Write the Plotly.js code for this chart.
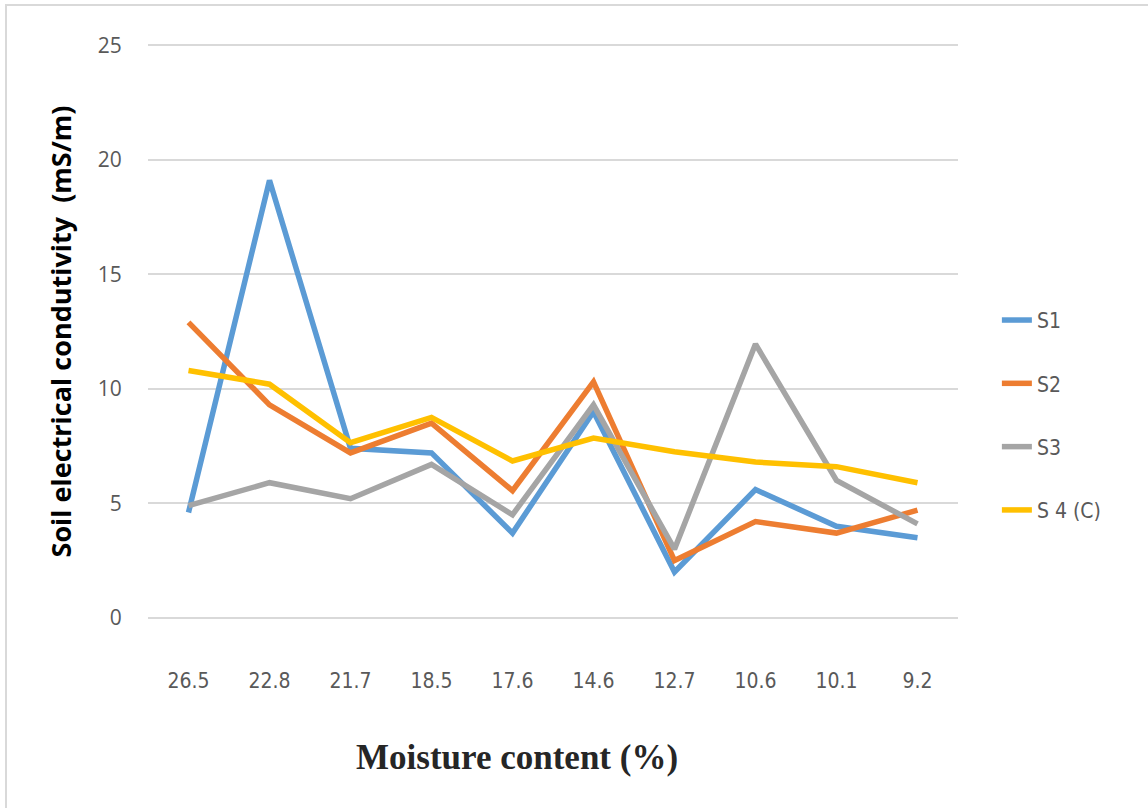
<!DOCTYPE html>
<html>
<head>
<meta charset="utf-8">
<script src="https://cdn.plot.ly/plotly-3.0.1.min.js"></script>
<style>html,body{margin:0;padding:0;background:#fff;}#chart{width:1148px;height:808px;}</style>
</head>
<body>
<div id="chart"></div>
<script>
var categories = ["26.5","22.8","21.7","18.5","17.6","14.6","12.7","10.6","10.1","9.2"];
var seriesNames = ["S1","S2","S3","S 4 (C)"];
var s1 = [4.6, 19.1, 7.4, 7.2, 3.7, 9.0, 2.0, 5.6, 4.0, 3.5];
var s2 = [12.9, 9.3, 7.2, 8.5, 5.55, 10.3, 2.5, 4.2, 3.7, 4.7];
var s3 = [4.9, 5.9, 5.2, 6.7, 4.5, 9.3, 3.0, 11.95, 6.0, 4.1];
var s4 = [10.8, 10.2, 7.65, 8.75, 6.85, 7.85, 7.25, 6.8, 6.6, 5.9];
var yTicks = [0, 5, 10, 15, 20, 25];
var colors = ["#5B9BD5", "#ED7D31", "#A5A5A5", "#FFC000"];

var allSeries = [s1, s2, s3, s4];
var traces = allSeries.map(function (vals, i) {
  return {
    type: "scatter",
    mode: "lines",
    x: categories,
    y: vals,
    name: seriesNames[i],
    legendgroup: "g" + i,
    line: {color: colors[i], width: 5.5, shape: "linear"},
    hoverinfo: "x+y+name"
  };
});

var layout = {
  width: 1148,
  height: 808,
  margin: {l: 148, r: 190, t: 44, b: 188.5},
  paper_bgcolor: "#ffffff",
  plot_bgcolor: "#ffffff",
  showlegend: true,
  legend: {
    x: 1.048, xanchor: "left",
    y: 0.555, yanchor: "top",
    traceorder: "grouped",
    tracegroupgap: 33,
    font: {family: "Liberation Sans Narrow, DejaVu Sans Condensed, Open Sans, sans-serif", size: 21, color: "#595959"},
    bgcolor: "rgba(0,0,0,0)"
  },
  xaxis: {
    type: "category",
    tickvals: categories,
    ticktext: categories,
    range: [-0.5, 9.5],
    showgrid: false,
    zeroline: false,
    showline: false,
    ticks: "outside",
    ticklen: 43,
    tickcolor: "rgba(0,0,0,0)",
    tickfont: {family: "Liberation Sans Narrow, DejaVu Sans Condensed, Open Sans, sans-serif", size: 21, color: "#595959"},
    fixedrange: true
  },
  yaxis: {
    range: [-0.05, 25.05],
    tickvals: yTicks,
    ticktext: yTicks.map(String),
    showgrid: true,
    gridcolor: "#d9d9d9",
    gridwidth: 2,
    zeroline: false,
    showline: false,
    ticks: "outside",
    ticklen: 21,
    tickcolor: "rgba(0,0,0,0)",
    tickfont: {family: "Open Sans, sans-serif", size: 21, color: "#595959"},
    title: {
      text: "<b>Soil electrical condutivity  (mS/m)</b>",
      font: {family: "Open Sans, sans-serif", size: 27, color: "#000000"},
      standoff: 18
    },
    fixedrange: true
  },
  annotations: [{
    text: "<b>Moisture content (%)</b>",
    xref: "paper", yref: "paper",
    x: (517 - 148) / 810, y: (618.5 - 757) / 573.5,
    xanchor: "center", yanchor: "middle",
    showarrow: false,
    font: {family: "Liberation Serif, Times New Roman, serif", size: 35, color: "#262626"}
  }],
  shapes: [{
    type: "rect", xref: "paper", yref: "paper",
    x0: (6 - 148) / 810, x1: (1160 - 148) / 810,
    y0: (618.5 - 820) / 573.5, y1: (618.5 - 6) / 573.5,
    line: {color: "#d9d9d9", width: 2},
    fillcolor: "rgba(0,0,0,0)",
    layer: "below"
  }]
};

Plotly.newPlot("chart", traces, layout, {displayModeBar: false, staticPlot: true});
</script>
</body>
</html>
